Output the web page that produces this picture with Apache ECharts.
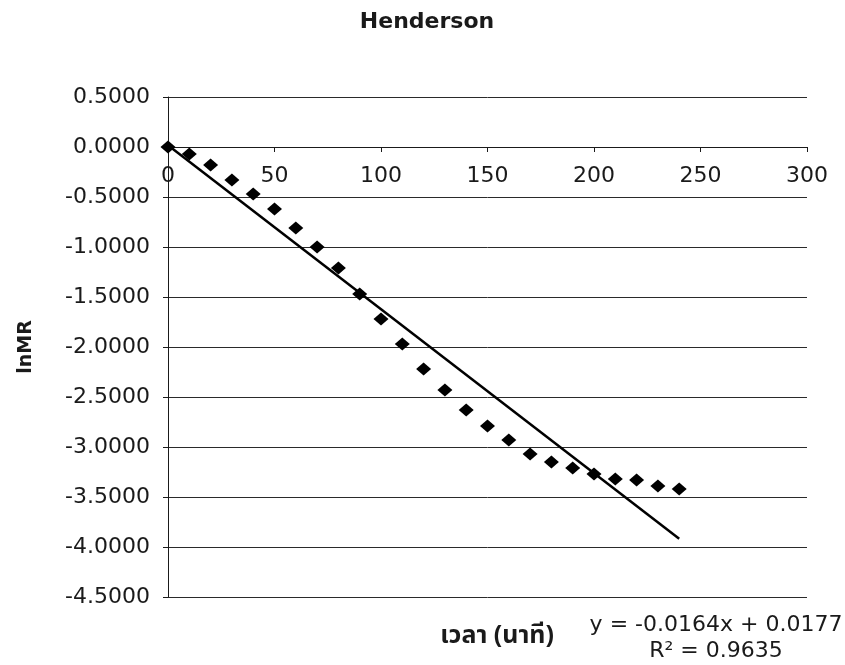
<!DOCTYPE html>
<html>
<head>
<meta charset="utf-8">
<title>Henderson</title>
<script src="https://cdn.jsdelivr.net/npm/echarts@6/dist/echarts.min.js"></script>
<style>
  html, body { margin: 0; padding: 0; background: #ffffff; }
  #chart { width: 845px; height: 665px; }
</style>
</head>
<body>
<div id="chart"></div>
<script>
// Drying time (minutes) and ln of the moisture ratio
const timeMin = [0, 10, 20, 30, 40, 50, 60, 70, 80, 90, 100, 110, 120,
                 130, 140, 150, 160, 170, 180, 190, 200, 210, 220, 230, 240];
const lnMR = [0.00, -0.07, -0.18, -0.33, -0.47, -0.62, -0.81, -1.00, -1.21,
              -1.47, -1.72, -1.97, -2.22, -2.43, -2.63, -2.79, -2.93, -3.07,
              -3.15, -3.21, -3.27, -3.32, -3.33, -3.39, -3.42];

// Linear trendline as stated in the equation label
const slope = -0.0164;
const intercept = 0.0177;
const rSquared = 0.9635;

const chartTitle = 'Henderson';
const xTitle = 'เวลา (นาที)';
const yTitle = 'lnMR';

const xTicks = { min: 0, max: 300, step: 50 };
const yTicks = { min: -4.5, max: 0.5, step: 0.5 };

const points = timeMin.map((t, i) => [t, lnMR[i]]);
const tStart = Math.min(...timeMin);
const tEnd = Math.max(...timeMin);
const trend = [
  [tStart, slope * tStart + intercept],
  [tEnd, slope * tEnd + intercept]
];

const eqText = 'y = ' + slope.toFixed(4) + 'x + ' + intercept.toFixed(4) +
               '\nR² = ' + rSquared.toFixed(4);

// Plot box
const W = 845, H = 665;
const gridBox = { left: 168, right: 38, top: 97, bottom: 68 };
const plotH = H - gridBox.top - gridBox.bottom;
// The time axis crosses the value axis at lnMR = 0
const xAxisShift = -plotH * (0 - yTicks.min) / (yTicks.max - yTicks.min);

const ink = '#1a1a1a';
const labelFont = "'DejaVu Sans', 'Liberation Sans', sans-serif";
const thaiFont = "'Noto Sans Thai', 'Noto Sans Thai Looped', 'Loma', 'Garuda', 'DejaVu Sans', sans-serif";

const chart = echarts.init(document.getElementById('chart'));

chart.setOption({
  backgroundColor: '#ffffff',
  animation: false,
  title: [
    {
      text: chartTitle,
      left: 422,
      top: 6,
      textAlign: 'center',
      textStyle: { fontFamily: labelFont, fontWeight: 'bold', fontSize: 22, color: ink }
    },
    {
      text: xTitle,
      left: 492,
      top: 620,
      textAlign: 'center',
      textStyle: { fontFamily: thaiFont, fontWeight: 'bold', fontSize: 25, color: ink }
    },
    {
      text: eqText,
      left: 711,
      top: 607,
      textAlign: 'center',
      textStyle: { fontFamily: labelFont, fontWeight: 'normal', fontSize: 22, lineHeight: 26, color: ink }
    }
  ],
  grid: Object.assign({ containLabel: false }, gridBox),
  xAxis: {
    type: 'value',
    min: xTicks.min,
    max: xTicks.max,
    interval: xTicks.step,
    position: 'bottom',
    offset: xAxisShift,
    axisLine: { onZero: false, lineStyle: { color: ink, width: 1 } },
    axisTick: { show: true, length: 5, lineStyle: { color: ink } },
    axisLabel: { fontFamily: labelFont, fontSize: 22, color: ink, margin: 18 },
    splitLine: { show: false }
  },
  yAxis: {
    type: 'value',
    min: yTicks.min,
    max: yTicks.max,
    interval: yTicks.step,
    name: yTitle,
    nameLocation: 'middle',
    nameRotate: 90,
    nameGap: 132,
    nameTextStyle: { fontFamily: labelFont, fontWeight: 'bold', fontSize: 19, color: ink },
    axisLine: { show: true, lineStyle: { color: ink, width: 1 } },
    axisTick: { show: true, length: 5, lineStyle: { color: ink } },
    axisLabel: {
      fontFamily: labelFont, fontSize: 22, color: ink, margin: 18,
      formatter: v => v.toFixed(4)
    },
    splitLine: { show: true, lineStyle: { color: '#2a2a2a', width: 1 } }
  },
  series: [
    {
      name: 'trend',
      type: 'line',
      data: trend,
      symbol: 'none',
      lineStyle: { color: '#000000', width: 2.5 },
      z: 2
    },
    {
      name: 'lnMR',
      type: 'scatter',
      data: points,
      symbol: 'diamond',
      symbolSize: [15, 13],
      itemStyle: { color: '#000000', opacity: 1 },
      z: 3
    }
  ]
});
</script>
</body>
</html>
